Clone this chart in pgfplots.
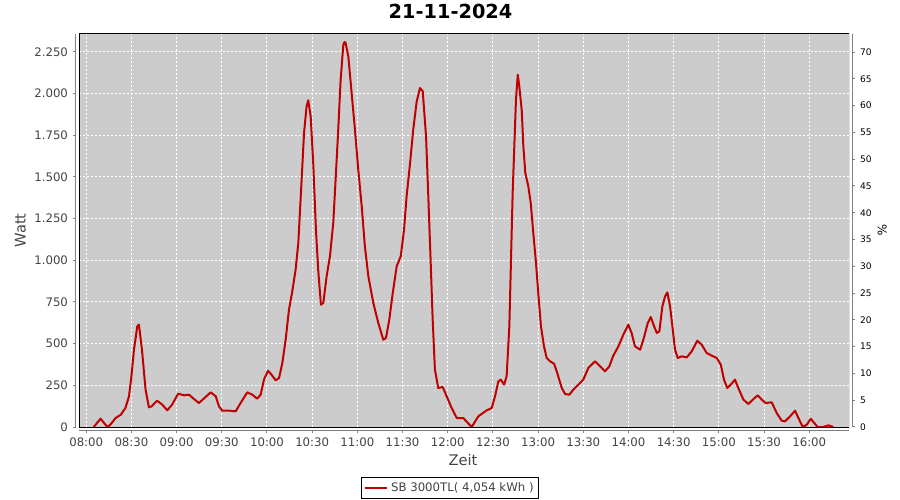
\documentclass[border=0pt]{standalone}
\usepackage{fontspec}
\setmainfont{DejaVu Sans}
\usepackage{pgfplots}
\pgfplotsset{compat=1.18}
\definecolor{plotbg}{RGB}{204,204,204}
\definecolor{linered}{RGB}{192,0,0}
\definecolor{txtgray}{RGB}{68,68,68}
\begin{document}
\begin{tikzpicture}
\useasboundingbox (0,0) rectangle (675pt,375pt);
\begin{axis}[
  at={(59.25pt,54.75pt)}, anchor=south west,
  scale only axis, width=577.5pt, height=294.75pt,
  xmin=-4.8, xmax=506.4, ymin=0, ymax=2358,
  axis background/.style={fill=plotbg},
  axis x line*=bottom, axis y line*=left,
  axis line shift=2.5pt,
  axis line style={gray, line width=0.75pt, -},
  tick align=outside, major tick length=2.25pt,
  tick style={gray, line width=0.75pt},
  xtick={0,30,...,480},
  xticklabels={08:00,08:30,09:00,09:30,10:00,10:30,11:00,11:30,12:00,12:30,13:00,13:30,14:00,14:30,15:00,15:30,16:00},
  ytick={0,250,...,2250},
  /pgf/number format/assume math mode=true,
  /pgf/number format/1000 sep={.},
  scaled y ticks=false,
  ticklabel style={font=\fontsize{8.8}{10}\selectfont, text=txtgray},
  grid=major,
  major grid style={white, dash pattern=on 1.5pt off 1.5pt, line width=0.75pt},
  title={21-11-2024},
  title style={at={(axis description cs:0.4825,1.036)}, anchor=center, font=\fontsize{14.5}{16}\selectfont\bfseries},
  xlabel={Zeit},
  xlabel style={at={(axis description cs:0.4987,-0.084)}, anchor=center, font=\fontsize{11}{13}\selectfont, text=txtgray},
  ylabel={Watt},
  ylabel style={at={(axis description cs:-0.076,0.5)}, anchor=center, font=\fontsize{11}{13}\selectfont, text=txtgray},
  legend style={at={(axis description cs:0.4818,-0.155)}, anchor=center, draw=black, line width=0.75pt, font=\fontsize{8.8}{10}\selectfont, text=txtgray, inner sep=1.5pt, legend cell align=left},
  legend image post style={line width=1.5pt},
]
\addplot[linered, line width=1.5pt, line join=round, sharp plot] coordinates {
(5,0)(9.5,50)(14,0)(16,14)(19.5,54)(23,74)(26,114)(28.4,184)(30,304)(31.7,464)(33.9,604)(35,614)(37,464)(39.4,224)(41.6,118)(43.4,124)(47,158)(50.5,134)(53.8,100)(57,134)(61,200)(65,190)(68.2,194)(71.5,168)(74.8,144)(78,170)(82.6,208)(86,184)(88.1,124)(90.3,98)(94.8,98)(99.2,94)(102.5,144)(106.9,208)(110.2,194)(113.5,170)(115.8,194)(118,284)(120.7,338)(123,314)(125.8,280)(128,294)(130.2,384)(132.4,524)(134.6,704)(136.8,814)(139,944)(140.8,1104)(143,1484)(144.6,1764)(146.3,1924)(147.4,1960)(149,1864)(150.7,1584)(152.5,1184)(154,944)(155.8,734)(157.4,744)(159.6,904)(161.8,1024)(164,1224)(165.8,1524)(167.3,1784)(168.9,2084)(170.7,2294)(171.5,2310)(172.2,2304)(174,2224)(176.2,2004)(178.4,1784)(180.6,1544)(182.9,1324)(185,1084)(187.3,904)(190.6,744)(193.9,624)(197.2,524)(199,534)(201.2,644)(203.5,804)(206.1,964)(208.8,1024)(211,1184)(212.7,1384)(215,1584)(217.1,1784)(219.4,1954)(221.6,2034)(223.4,2014)(225.6,1744)(227.1,1384)(228.7,984)(230,644)(231.5,344)(233.7,234)(236.7,240)(239.3,184)(242.6,114)(246,54)(250.3,54)(255.9,0)(260.3,64)(265.9,100)(269.2,114)(271.4,184)(273.6,274)(275.2,284)(277.4,254)(279.1,304)(280.9,604)(282,1004)(283.1,1404)(284.2,1684)(285.3,1964)(286.5,2114)(287.5,2044)(289.1,1904)(290.2,1684)(291.5,1524)(293.5,1444)(295.1,1344)(296.8,1164)(298.6,984)(300.1,804)(301.9,604)(303.9,484)(305.7,414)(307.9,394)(310.6,380)(312.7,324)(315.7,234)(317.9,198)(320.7,194)(323.4,224)(326.7,254)(330,284)(333.3,354)(337.8,394)(341.1,364)(344.4,334)(347.3,364)(349.9,428)(353.3,484)(356.6,554)(359.9,614)(362.1,564)(364.3,484)(367.7,464)(369.9,524)(372.8,624)(374.8,660)(377,604)(378.8,564)(380.5,574)(382.5,724)(384.3,784)(385.8,808)(387.6,724)(389.4,584)(390.9,464)(392.7,414)(395.3,424)(398.7,418)(402,454)(405.7,518)(408.6,494)(411.9,444)(415.3,428)(418.6,414)(421.3,374)(423.4,284)(425.6,234)(427.9,254)(430.7,284)(432.9,234)(436.3,164)(439.6,138)(442.5,164)(445.8,190)(448.5,164)(451.1,144)(455.1,148)(458.4,84)(461.7,38)(463.9,34)(467.3,64)(470.6,98)(472.8,54)(475.7,0)(478.4,14)(481,50)(483.3,24)(485.6,0)(489.4,0)(492.7,10)(496,0)
};
\addlegendentry{SB 3000TL( 4,054 kWh )}
\draw[black, line width=0.75pt] (rel axis cs:0,0) rectangle (rel axis cs:1,1);
\end{axis}
\begin{axis}[
  at={(59.25pt,54.75pt)}, anchor=south west,
  scale only axis, width=577.5pt, height=294.75pt,
  xmin=-4.8, xmax=506.4, ymin=0, ymax=73.36,
  axis x line=none, axis y line*=right,
  axis line shift=2.5pt,
  axis line style={gray, line width=0.75pt, -},
  tick align=outside, major tick length=2.25pt,
  tick style={gray, line width=0.75pt},
  ytick={0,5,...,70},
  /pgf/number format/assume math mode=true,
  yticklabel style={font=\fontsize{6.8}{8}\selectfont, text=black},
  ylabel={\%},
  ylabel style={at={(axis description cs:1.043,0.5)}, anchor=center, rotate=180, font=\fontsize{9}{10}\selectfont, text=black},
]
\end{axis}
\end{tikzpicture}
\end{document}
